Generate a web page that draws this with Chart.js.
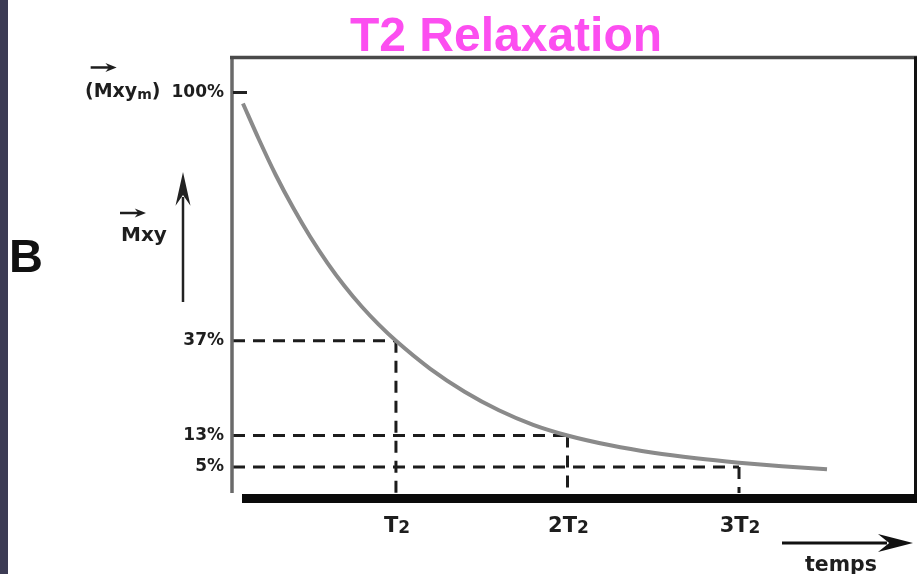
<!DOCTYPE html>
<html>
<head>
<meta charset="utf-8">
<script src="https://cdn.jsdelivr.net/npm/chart.js@4.4.0/dist/chart.umd.min.js"></script>
<style>
  html, body { margin: 0; padding: 0; background: #fff; }
  #wrap { width: 920px; height: 574px; }
</style>
</head>
<body>
<div id="wrap"><canvas id="c" width="920" height="574"></canvas></div>
<script>
// ---- data ----
const titleText = 'T2 Relaxation';
// time in units of T2, magnetisation Mxy in %
const curveT = [0.108, 0.2, 0.3, 0.4, 0.5, 0.6, 0.7, 0.8, 0.9, 1.0, 1.2, 1.4, 1.6, 1.8, 2.0, 2.25, 2.5, 2.75, 3.0, 3.25, 3.513];
const curveV = [97.2, 88.2, 79.0, 70.8, 63.4, 56.8, 50.9, 45.7, 41.1, 37.0, 29.9, 24.1, 19.4, 15.7, 13.0, 10.5, 8.6, 7.2, 6.1, 5.2, 4.4];
// reference levels marked by dashed lines
const levelT = [1, 2, 3];
const levelV = [37, 13, 5];
// tick values and labels
const yTicks = [5, 13, 37, 100];
const yTickLabels = ['5%', '13%', '37%', '100%'];
const xTicks = [1, 2, 3];
const xTickMain = ['T', '2T', '3T'];
const xTickSub = ['2', '2', '2'];

const X_MIN = 0.05, X_MAX = 4.026, Y_MIN = -1.6, Y_MAX = 108.9;

const curveData = curveT.map((t, i) => ({ x: t, y: curveV[i] }));
const dashStyle = { borderColor: '#1c1c1c', borderWidth: 3, borderDash: [12, 8], pointRadius: 0, fill: false, tension: 0 };
const dashSets = [];
levelT.forEach((t, i) => {
  dashSets.push(Object.assign({ label: 'h' + i, data: [{ x: X_MIN, y: levelV[i] }, { x: t, y: levelV[i] }], order: 2 }, dashStyle));
  dashSets.push(Object.assign({ label: 'v' + i, data: [{ x: t, y: levelV[i] }, { x: t, y: Y_MIN }], order: 2 }, dashStyle));
});

const FONT = '"DejaVu Sans", "Liberation Sans", Arial, sans-serif';

function arrow(ctx, x1, y1, x2, y2, headLen, headHalf, lw, color) {
  const ang = Math.atan2(y2 - y1, x2 - x1);
  const bx = x2 - headLen * Math.cos(ang), by = y2 - headLen * Math.sin(ang);
  ctx.save();
  ctx.strokeStyle = color; ctx.fillStyle = color; ctx.lineWidth = lw;
  ctx.beginPath(); ctx.moveTo(x1, y1); ctx.lineTo(bx + 2 * Math.cos(ang), by + 2 * Math.sin(ang)); ctx.stroke();
  const nx = -Math.sin(ang), ny = Math.cos(ang);
  const nb = 0.25 * headLen;
  ctx.beginPath();
  ctx.moveTo(x2, y2);
  ctx.lineTo(bx + nx * headHalf - nb * Math.cos(ang), by + ny * headHalf - nb * Math.sin(ang));
  ctx.lineTo(bx + 0.15 * headLen * Math.cos(ang), by + 0.15 * headLen * Math.sin(ang));
  ctx.lineTo(bx - nx * headHalf - nb * Math.cos(ang), by - ny * headHalf - nb * Math.sin(ang));
  ctx.closePath(); ctx.fill();
  ctx.restore();
}

const deco = {
  id: 'deco',
  beforeDraw(chart) {
    const c = chart.ctx;
    c.save();
    c.fillStyle = '#ffffff'; c.fillRect(0, 0, chart.width, chart.height);
    c.fillStyle = '#3c3b54'; c.fillRect(0, 0, 8, chart.height);
    c.restore();
  },
  afterDraw(chart) {
    const c = chart.ctx;
    const { left, right, top, bottom } = chart.chartArea;
    const xs = chart.scales.x, ys = chart.scales.y;
    c.save();
    // plot frame
    c.lineCap = 'butt';
    c.strokeStyle = '#6a6a6a'; c.lineWidth = 3.5;
    c.beginPath(); c.moveTo(left - 1, top - 1); c.lineTo(left - 1, bottom); c.stroke();
    c.strokeStyle = '#4a4a4a'; c.lineWidth = 3.5;
    c.beginPath(); c.moveTo(left - 3, top); c.lineTo(right + 2, top); c.stroke();
    c.strokeStyle = '#111'; c.lineWidth = 3;
    c.beginPath(); c.moveTo(right + 0.5, top - 1); c.lineTo(right + 0.5, bottom + 10); c.stroke();
    c.fillStyle = '#0a0a0a';
    c.fillRect(left + 9, bottom + 1, right + 2 - (left + 9), 9);
    // tick at 100%
    const y100 = ys.getPixelForValue(100);
    c.strokeStyle = '#222'; c.lineWidth = 3;
    c.beginPath(); c.moveTo(left, y100); c.lineTo(left + 14, y100); c.stroke();

    // (Mxym) prefix of the 100% label
    c.fillStyle = '#1e1e1e';
    c.textBaseline = 'middle';
    c.font = 'bold 17px ' + FONT;
    const w100 = c.measureText('100%').width;
    c.font = 'bold 19px ' + FONT;
    const wA = c.measureText('(Mxy').width;
    const wC = c.measureText(')').width;
    const wParen = c.measureText('(').width;
    c.font = 'bold 14px ' + FONT;
    const wB = c.measureText('m').width;
    const xEnd = left - 9 - w100 - 11;
    const xStart = xEnd - (wA + wB + wC);
    c.textAlign = 'left';
    c.font = 'bold 19px ' + FONT;
    c.fillText('(Mxy', xStart, y100);
    c.font = 'bold 14px ' + FONT;
    c.fillText('m', xStart + wA, y100 + 3);
    c.font = 'bold 19px ' + FONT;
    c.fillText(')', xStart + wA + wB, y100);
    arrow(c, xStart + wParen - 3, y100 - 25, xStart + wParen + 23, y100 - 25, 9, 4.5, 2.5, '#1e1e1e');

    // B
    c.textBaseline = 'alphabetic';
    c.font = 'bold 47px "Liberation Sans", Arial, sans-serif';
    c.fillStyle = '#111';
    c.fillText('B', 9, 272);

    // Mxy with vector arrow
    c.font = 'bold 20px ' + FONT;
    c.fillStyle = '#1e1e1e';
    c.fillText('Mxy', 121, 241);
    arrow(c, 120, 213, 146, 213, 9, 4.5, 2.5, '#1e1e1e');
    // vertical arrow
    arrow(c, 183, 302, 183, 172, 27, 7.5, 2.5, '#222');

    // x tick labels with subscripts
    xTicks.forEach((t, i) => {
      const tx = xs.getPixelForValue(t);
      c.font = 'bold 21px ' + FONT;
      const wm = c.measureText(xTickMain[i]).width;
      c.font = 'bold 17px ' + FONT;
      const wsb = c.measureText(xTickSub[i]).width;
      const x0 = tx + 1 - (wm + wsb) / 2;
      c.font = 'bold 21px ' + FONT;
      c.fillText(xTickMain[i], x0, 532);
      c.font = 'bold 17px ' + FONT;
      c.fillText(xTickSub[i], x0 + wm, 533);
    });

    // time arrow + label
    arrow(c, 782, 543, 913, 543, 28, 9, 3, '#111');
    c.font = 'bold 20.5px ' + FONT;
    c.fillStyle = '#1e1e1e';
    c.fillText('temps', 805, 571);
    c.restore();
  }
};

new Chart(document.getElementById('c'), {
  type: 'line',
  data: {
    datasets: [
      { label: 'Mxy', data: curveData, borderColor: '#8a8a8a', borderWidth: 4, pointRadius: 0, fill: false,
        cubicInterpolationMode: 'monotone', order: 1 },
      ...dashSets
    ]
  },
  options: {
    responsive: false,
    devicePixelRatio: 1,
    animation: false,
    layout: { padding: { left: 97, right: 5, top: 0, bottom: 0 } },
    plugins: {
      legend: { display: false },
      tooltip: { enabled: false },
      title: {
        display: true,
        text: titleText,
        color: '#fc4ef0',
        font: { family: '"Liberation Sans", Arial, sans-serif', size: 48, weight: 'bold', lineHeight: 0.8 },
        padding: { top: 19, bottom: 0 }
      }
    },
    scales: {
      x: {
        type: 'linear', min: X_MIN, max: X_MAX,
        grid: { display: false, drawTicks: false },
        border: { display: false },
        ticks: { display: false },
        afterFit(scale) { scale.height = 81; }
      },
      y: {
        type: 'linear', min: Y_MIN, max: Y_MAX,
        grid: { display: false, drawTicks: false },
        border: { display: false },
        afterBuildTicks(scale) { scale.ticks = yTicks.map(v => ({ value: v })); },
        ticks: {
          padding: 9,
          color: '#1e1e1e',
          font: { family: FONT, size: 17, weight: 'bold' },
          callback(value) { const k = yTicks.indexOf(value); return k >= 0 ? yTickLabels[k] : ''; }
        },
        afterFit(scale) { scale.width = 136; }
      }
    }
  },
  plugins: [deco]
});
</script>
</body>
</html>
